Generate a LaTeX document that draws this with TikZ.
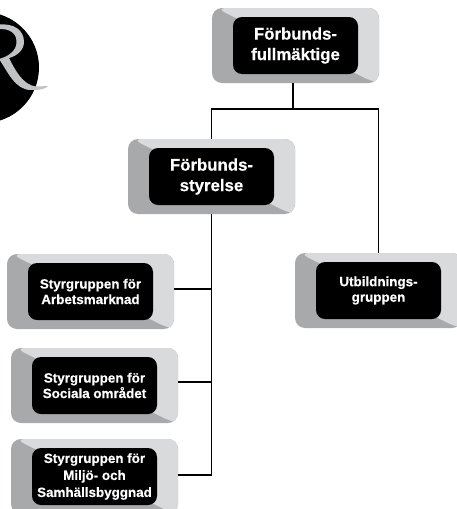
\documentclass[tikz,border=0pt]{standalone}
\usepackage{fontspec}
\setmainfont[BoldFeatures={FakeBold=0.4}]{Liberation Sans}
\definecolor{facelight}{HTML}{D9DADB}
\definecolor{facedark}{HTML}{A8A9AB}
\definecolor{logogrey}{HTML}{C0C2C4}
\tikzset{
  outerbox/.style={rectangle,rounded corners=10pt,minimum width=167pt,minimum height=75pt,inner sep=0pt,outer sep=0pt,fill=facedark,
    path picture={
      \fill[facelight]
        ([shift={(4pt,0pt)}]path picture bounding box.north west) --
        ([shift={(30pt,-13pt)}]path picture bounding box.north west) --
        ([shift={(-30pt,13pt)}]path picture bounding box.south east) --
        ([shift={(-4pt,0pt)}]path picture bounding box.south east) --
        (path picture bounding box.south east) --
        (path picture bounding box.north east) -- cycle;
    }},
  innerbox/.style={rectangle,rounded corners=9pt,minimum width=125pt,minimum height=57pt,inner sep=0pt,outer sep=0pt,fill=black,text=white,align=center,font=\bfseries},
  bigtext/.style={font=\fontsize{16.8}{20.5}\selectfont\bfseries},
  smalltext/.style={font=\fontsize{13.4}{15.5}\selectfont\bfseries},
  tighttext/.style={font=\fontsize{13.4}{17}\selectfont\bfseries},
  conn/.style={draw=black,line width=1.2pt},
}
\begin{document}
\begin{tikzpicture}[x=1pt,y=-1pt]
\clip (0,0) rectangle (457,509);
\fill[white] (0,0) rectangle (457,509);
% logo
\fill[black] (-16.5,67.5) circle (55.5);
\fill[logogrey] (-2,24.5) .. controls (14,23) and (24,30) .. (24,42)
  .. controls (24,50) and (17,56) .. (9,58)
  .. controls (15,70) and (23,85) .. (36,86.5) -- (48,86)
  .. controls (46,89) and (40,90) .. (31,90)
  .. controls (15,90) and (8,72) .. (-1,59)
  .. controls (10,56) and (16.5,50) .. (16.5,42)
  .. controls (16.5,33) and (10,28.5) .. (-2,29) -- cycle;
% boxes
\node[outerbox] (f) at (295.5,45.5) {};
\node[innerbox,bigtext] (ft) at (f) {Förbunds-\\fullmäktige};
\node[outerbox] (s) at (211.5,176.5) {};
\node[innerbox,bigtext] (st) at (s) {Förbunds-\\styrelse};
\node[outerbox] (a) at (90.5,291.5) {};
\node[innerbox,smalltext] (at) at (a) {Styrgruppen för\\Arbetsmarknad};
\node[outerbox] (b) at (94.5,385.5) {};
\node[innerbox,smalltext] (bt) at (b) {Styrgruppen för\\Sociala området};
\node[outerbox] (c) at (94.5,476.5) {};
\node[innerbox,tighttext] (ct) at (c) {Styrgruppen för\\Miljö- och\\Samhällsbyggnad};
\node[outerbox] (u) at (378.5,290.5) {};
\node[innerbox,smalltext] (ut) at (u) {Utbildnings-\\gruppen};
% connectors
\coordinate (split) at ([xshift=-2.5pt,yshift=-26pt]f.south);
\draw[conn] ([xshift=-2.5pt]f.south) -- (split);
\draw[conn] (split) -| (s.north);
\draw[conn] (split) -| (u.north);
\draw[conn] (s.south) |- ([yshift=1.5pt]c.east);
\draw[conn] ([yshift=2.5pt]a.east) -- ([yshift=2.5pt]a.east -| s.south);
\draw[conn] ([yshift=3.5pt]b.east) -- ([yshift=3.5pt]b.east -| s.south);
\end{tikzpicture}
\end{document}
